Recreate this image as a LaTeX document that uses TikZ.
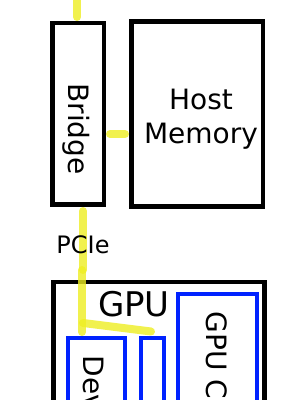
\documentclass[tikz,border=0pt]{standalone}
\usepackage{fontspec}
\setmainfont{DejaVu Sans}
\usepackage{tikz}
\usetikzlibrary{positioning, calc}
\definecolor{buscol}{HTML}{EEEE22}
\definecolor{memcol}{HTML}{0022FF}
\tikzset{
	% riquadro nero (componente)
	riquadro/.style={draw, line width=4.5pt, rectangle, inner sep=0pt},
	% riquadro blu dentro la GPU
	riquadroblu/.style={draw=memcol, line width=4pt, rectangle, inner sep=0pt,
	                    minimum height=220pt},
	% collegamento giallo (bus)
	giallo/.style={draw=buscol, line width=8pt, line cap=round, opacity=0.8},
	% scritte
	scritta/.style={inner sep=0pt, font=\fontsize{28}{34}\selectfont},
	scrittav/.style={scritta, rotate=-90, anchor=base west},
}

\begin{document}
\begin{tikzpicture}[x=1pt, y=1pt]
    \useasboundingbox (0,0) rectangle (289,400);
    \node[riquadro, minimum width=51.5pt, minimum height=181.5pt] (bridge) at (78,286) {};
    \node[riquadro, minimum width=131.8pt, minimum height=185pt, right=23pt of bridge] (mem) {};
    \node[riquadro, minimum width=211.2pt, minimum height=240pt, anchor=north] (gpu) at (158.9,120) {};
    \node[riquadroblu, minimum width=57pt, anchor=north] (dev) at (96.5,64) {};
    \node[riquadroblu, minimum width=23pt, right=12pt of dev] (small) {};
    \node[riquadroblu, minimum width=79pt, anchor=north] (core) at (217.5,108) {};
    \node[scrittav] (bridgetxt) at (68.3,316.7) {Bridge};
    \node[scritta, align=center] (memtxt) at (201,280.4) {Host\\Memory};
    \node[scritta, font=\fontsize{34}{40}\selectfont, anchor=base] (gputxt) at (133.9,83) {GPU};
    \node[scrittav] (devtxt) at (84,44.5) {Dev};
    \node[scrittav] (coretxt) at (206.7,88.3) {GPU C};
    \coordinate (host) at (77,410);
    \coordinate (giunto1) at (83,130);
    \coordinate (giunto2) at (82,130);
    \coordinate (giunto3) at (83,77);
    \draw[giallo, shorten >=4pt] (host) -- (host |- bridge.north);
    \draw[giallo, shorten <=4pt, shorten >=4pt] ([yshift=-20pt]bridge.east) -- ([yshift=-20pt]bridge.east -| mem.west);
    \draw[giallo, shorten <=4pt] (giunto1 |- bridge.south) -- node[pos=0.6, scritta, opacity=1, font=\fontsize{24}{28}\selectfont] (pcie) {PCIe} (giunto1);
    \draw[giallo, shorten >=4pt] (giunto2) -- (giunto2 |- dev.north);
    \draw[giallo] (giunto3) -- ([xshift=-1.5pt, yshift=4.5pt]small.north);
\end{tikzpicture}
\end{document}
